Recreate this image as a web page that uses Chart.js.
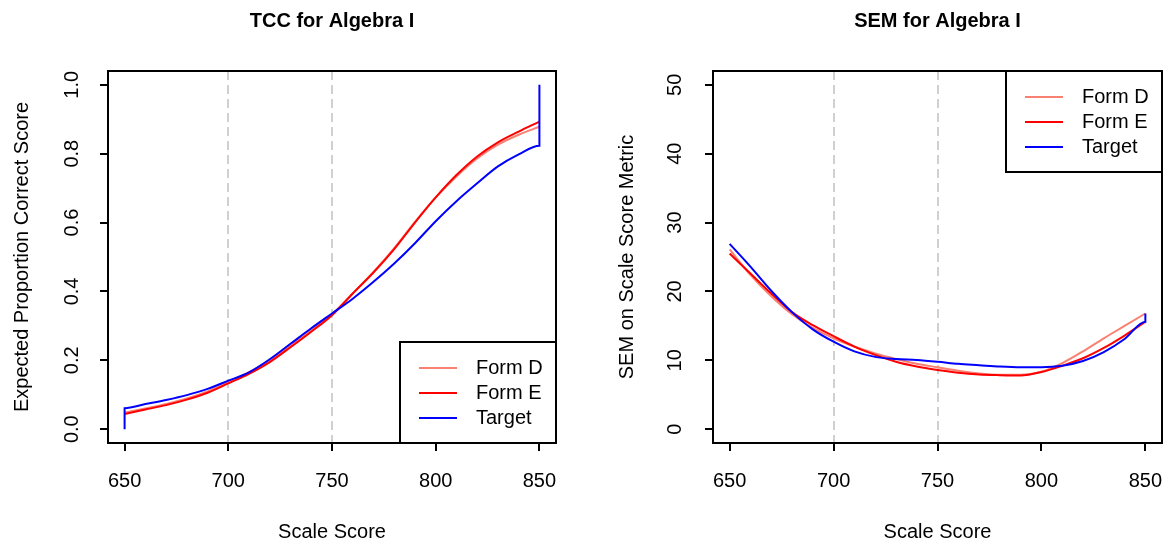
<!DOCTYPE html>
<html>
<head>
<meta charset="utf-8">
<title>TCC and SEM for Algebra I</title>
<script src="https://cdn.jsdelivr.net/npm/chart.js@4.4.1/dist/chart.umd.min.js"></script>
<style>
  html, body { margin: 0; padding: 0; background: #fff; }
  #wrap { position: relative; width: 1165px; height: 546px; overflow: hidden; }
  canvas { position: absolute; top: 0; }
  #tccChart { left: 0; }
  #semChart { left: 583px; }
</style>
</head>
<body>
<div id="wrap">
  <canvas id="tccChart" width="583" height="546"></canvas>
  <canvas id="semChart" width="582" height="546"></canvas>
</div>
<script>
// scale score grid shared by both forms
const scaleScores = [650, 660, 670, 680, 690, 700, 710, 720, 730, 740, 750,
                     760, 770, 780, 790, 800, 810, 820, 830, 840, 850];
const xTicks = [650, 700, 750, 800, 850];
const cutScores = [700, 750];

// test characteristic curves (expected proportion correct)
const tccFormD = [0.048, 0.060, 0.073, 0.089, 0.110, 0.137, 0.166, 0.200, 0.243, 0.288, 0.334,
                  0.394, 0.457, 0.526, 0.602, 0.673, 0.734, 0.786, 0.826, 0.855, 0.878];
const tccFormE = [0.044, 0.057, 0.070, 0.086, 0.106, 0.133, 0.161, 0.195, 0.238, 0.283, 0.331,
                  0.394, 0.455, 0.523, 0.600, 0.673, 0.738, 0.792, 0.833, 0.864, 0.893];
const tccTargetScores = [650, 650, 660, 670, 680, 690, 700, 710, 720, 730, 740, 750,
                         760, 770, 780, 790, 800, 810, 820, 830, 840, 850, 850];
const tccTarget = [0.000, 0.061, 0.073, 0.085, 0.099, 0.117, 0.141, 0.165, 0.203, 0.248, 0.293, 0.336,
                   0.379, 0.428, 0.481, 0.540, 0.604, 0.662, 0.714, 0.763, 0.798, 0.823, 1.000];
const tccYTicks = [0, 0.2, 0.4, 0.6, 0.8, 1.0];
const tccYLabels = ["0.0", "0.2", "0.4", "0.6", "0.8", "1.0"];

// conditional SEM on the scale score metric
const semFormD = [26.1, 22.4, 19.3, 16.7, 14.7, 13.2, 12.0, 11.0, 10.2, 9.5, 9.0,
                  8.5, 8.1, 7.9, 7.9, 8.35, 9.6, 11.3, 13.2, 15.0, 16.8];
const semFormE = [25.5, 22.6, 19.7, 17.0, 15.1, 13.5, 12.0, 10.8, 9.8, 9.1, 8.6,
                  8.2, 7.95, 7.85, 7.8, 8.3, 9.2, 10.3, 11.8, 13.6, 15.6];
const semTargetScores = [650, 660, 670, 680, 690, 700, 710, 720, 730, 740, 750,
                         760, 770, 780, 790, 800, 810, 820, 830, 840, 850, 850];
const semTarget = [26.9, 23.6, 20.1, 17.0, 14.5, 12.7, 11.3, 10.5, 10.2, 10.05, 9.8,
                   9.5, 9.3, 9.1, 9.0, 9.0, 9.2, 9.9, 11.2, 13.1, 15.6, 16.8];
const semYTicks = [0, 10, 20, 30, 40, 50];
const semYLabels = ["0", "10", "20", "30", "40", "50"];

const seriesNames = ["Form D", "Form E", "Target"];
const seriesColors = ["#fa8072", "#ff0000", "#0000ff"];

const FONT = "'Liberation Sans', Arial, Helvetica, sans-serif";
Chart.defaults.font.family = FONT;
Chart.defaults.color = "#000";

const toPoints = (xs, ys) => xs.map((x, i) => ({ x: x, y: ys[i] }));

// box, cut-score lines, vertical y tick labels and the legend, base-graphics style
const basePlot = {
  id: "basePlot",
  beforeDatasetsDraw(chart, args, opts) {
    const { ctx, chartArea: a, scales: { x } } = chart;
    ctx.save();
    ctx.strokeStyle = "#d0d0d0";
    ctx.lineWidth = 2;
    ctx.setLineDash([9, 5]);
    opts.refLines.forEach(v => {
      const px = Math.round(x.getPixelForValue(v));
      ctx.beginPath();
      ctx.moveTo(px, a.top);
      ctx.lineTo(px, a.bottom);
      ctx.stroke();
    });
    ctx.restore();
  },
  afterDraw(chart, args, opts) {
    const { ctx, chartArea: a, scales: { y } } = chart;
    ctx.save();
    ctx.strokeStyle = "#000";
    ctx.lineWidth = 2;
    ctx.strokeRect(a.left, a.top, a.right - a.left, a.bottom - a.top);

    // y tick labels read bottom to top
    ctx.fillStyle = "#000";
    ctx.font = "20px " + FONT;
    ctx.textAlign = "center";
    ctx.textBaseline = "middle";
    opts.yTicks.forEach((v, i) => {
      ctx.save();
      ctx.translate(a.left - opts.labelGap, y.getPixelForValue(v));
      ctx.rotate(-Math.PI / 2);
      ctx.fillText(opts.yLabels[i], 0, 0);
      ctx.restore();
    });

    // legend
    const w = 156, h = 101;
    const lx = a.right - w;
    const ly = opts.legendAt === "top" ? a.top : a.bottom - h;
    ctx.fillStyle = "#fff";
    ctx.fillRect(lx, ly, w, h);
    ctx.strokeRect(lx, ly, w, h);
    ctx.textAlign = "left";
    chart.data.datasets.forEach((ds, i) => {
      const ry = ly + 26 + i * 25;
      ctx.strokeStyle = ds.borderColor;
      ctx.beginPath();
      ctx.moveTo(lx + 19, ry);
      ctx.lineTo(lx + 57, ry);
      ctx.stroke();
      ctx.fillStyle = "#000";
      ctx.fillText(ds.label, lx + 76, ry);
    });
    ctx.restore();
  }
};

function makeChart(canvas, cfg) {
  const datasets = cfg.series.map((pts, i) => ({
    label: seriesNames[i],
    data: pts,
    borderColor: seriesColors[i],
    borderWidth: 2,
    pointRadius: 0,
    cubicInterpolationMode: "monotone",
    order: 2 - i
  }));

  return new Chart(canvas, {
    type: "line",
    data: { datasets: datasets },
    plugins: [basePlot],
    options: {
      responsive: false,
      animation: false,
      events: [],
      layout: { padding: { left: 0, right: cfg.padRight, top: 0, bottom: 0 } },
      plugins: {
        legend: { display: false },
        tooltip: { enabled: false },
        title: {
          display: true,
          fullSize: false,
          text: cfg.title,
          font: { size: 20, weight: "bold" },
          padding: { top: 9, bottom: 38 }
        },
        basePlot: {
          refLines: cutScores,
          yTicks: cfg.yTicks,
          yLabels: cfg.yLabels,
          labelGap: cfg.labelGap,
          legendAt: cfg.legendAt
        }
      },
      scales: {
        x: {
          type: "linear",
          min: 642,
          max: 858,
          afterBuildTicks: axis => { axis.ticks = xTicks.map(v => ({ value: v })); },
          afterFit: axis => {
            axis.height = 103;
            axis.paddingLeft = 0;
            axis.paddingRight = 0;
          },
          border: { display: false },
          grid: { drawOnChartArea: false, drawTicks: true, tickLength: 8, color: "#000", lineWidth: 2 },
          ticks: { font: { size: 20 }, padding: 18, maxRotation: 0, callback: v => String(v) },
          title: { display: true, text: "Scale Score", font: { size: 20 }, padding: { top: 0, bottom: 2 } }
        },
        y: {
          type: "linear",
          min: cfg.yMin,
          max: cfg.yMax,
          afterBuildTicks: axis => { axis.ticks = cfg.yTicks.map(v => ({ value: v })); },
          afterFit: axis => {
            axis.width = cfg.yAxisWidth;
            axis.paddingTop = 0;
            axis.paddingBottom = 0;
          },
          border: { display: false },
          grid: { drawOnChartArea: false, drawTicks: true, tickLength: 8, color: "#000", lineWidth: 2 },
          ticks: { display: false },
          title: { display: true, text: cfg.yTitle, font: { size: 20 }, padding: { top: cfg.yTitlePad, bottom: 0 } }
        }
      }
    }
  });
}

makeChart(document.getElementById("tccChart"), {
  title: "TCC for Algebra I",
  yTitle: "Expected Proportion Correct Score",
  series: [
    toPoints(scaleScores, tccFormD),
    toPoints(scaleScores, tccFormE),
    toPoints(tccTargetScores, tccTarget)
  ],
  yMin: -0.04, yMax: 1.04,
  yTicks: tccYTicks, yLabels: tccYLabels,
  yAxisWidth: 108, yTitlePad: 10, padRight: 27,
  labelGap: 36,
  legendAt: "bottom"
});

makeChart(document.getElementById("semChart"), {
  title: "SEM for Algebra I",
  yTitle: "SEM on Scale Score Metric",
  series: [
    toPoints(scaleScores, semFormD),
    toPoints(scaleScores, semFormE),
    toPoints(semTargetScores, semTarget)
  ],
  yMin: -2, yMax: 52,
  yTicks: semYTicks, yLabels: semYLabels,
  yAxisWidth: 130, yTitlePad: 32, padRight: 3,
  labelGap: 38,
  legendAt: "top"
});
</script>
</body>
</html>
